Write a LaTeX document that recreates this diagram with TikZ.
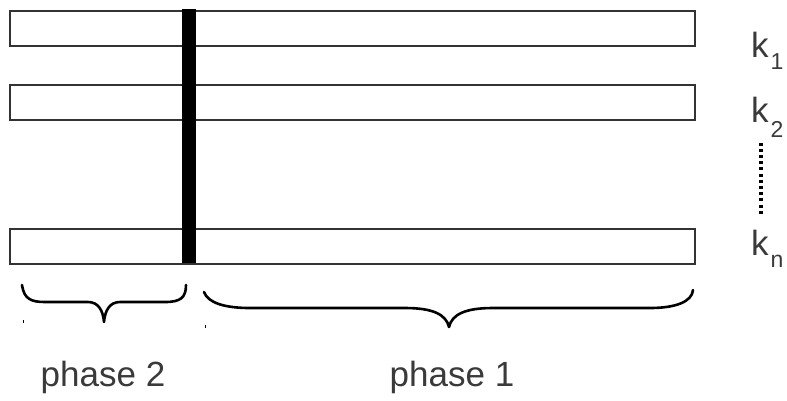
\documentclass[tikz,border=0pt]{standalone}
\usepackage{fontspec}
\setmainfont{Liberation Sans}
\definecolor{ink}{HTML}{333333}
\definecolor{txt}{HTML}{3A3A3A}
\begin{document}
\begin{tikzpicture}[x=1pt,y=-1pt,
  rowbox/.style={draw=ink,line width=1.5pt,fill=white,inner sep=0pt,minimum width=685pt,minimum height=35pt,anchor=north west},
  brace/.style={draw=black,line width=2.6pt,line cap=round,line join=round},
  lab/.style={text=txt,font=\fontsize{35}{35}\selectfont,inner sep=0pt},
  klab/.style={text=txt,font=\fontsize{35}{35}\selectfont,inner sep=0pt,anchor=base west},
  sub/.style={text=txt,font=\fontsize{23}{23}\selectfont,inner sep=0pt,anchor=base west}]
\useasboundingbox (0,0) rectangle (787,400);
\node[rowbox] (r1) at (9,10) {};
\node[rowbox] (r2) at (9,84) {};
\node[rowbox] (r3) at (9,228) {};
\fill[black] (182,9) rectangle (196,263);
% k labels
\node[klab] (k1) at (751,57) {k};
\node[sub] (k1s) at ([xshift=1.5pt]k1.base east) [yshift=-12pt] {1};
\node[klab] (k2) at (751,122) {k};
\node[sub] (k2s) at ([xshift=1.5pt]k2.base east) [yshift=-15pt] {2};
\node[klab] (kn) at (751,255) {k};
\node[sub] (kns) at ([xshift=1.5pt]kn.base east) [yshift=-12pt] {n};
\coordinate (d1) at (760.5,142.5);
\coordinate (d2) at (760.5,216);
\draw[black,line width=4pt,dash pattern=on 3pt off 3.2pt] (d1) -- (d2);
% braces
\draw[brace] (22,285) .. controls (24,299) and (31,302) .. (45,302) -- (88,302)
  .. controls (98,302) and (103,310) .. (104,322)
  .. controls (105,310) and (110,302) .. (120,302) -- (165,302)
  .. controls (180,302) and (186,298) .. (186,285);
\draw[brace] (204,292) .. controls (208,303) and (225,308) .. (250,308) -- (405,308)
  .. controls (432,308) and (446,314) .. (449,327)
  .. controls (452,314) and (466,308) .. (493,308) -- (650,308)
  .. controls (675,308) and (692,302) .. (693,290);
\draw[black,line width=0.8pt] (23.5,320) -- (23.5,323);
\draw[black,line width=0.8pt] (205,325) -- (205,328);
\node[lab] (p2) at (103,377) {phase 2};
\node[lab] (p1) at (452,377) {phase 1};
\end{tikzpicture}
\end{document}
